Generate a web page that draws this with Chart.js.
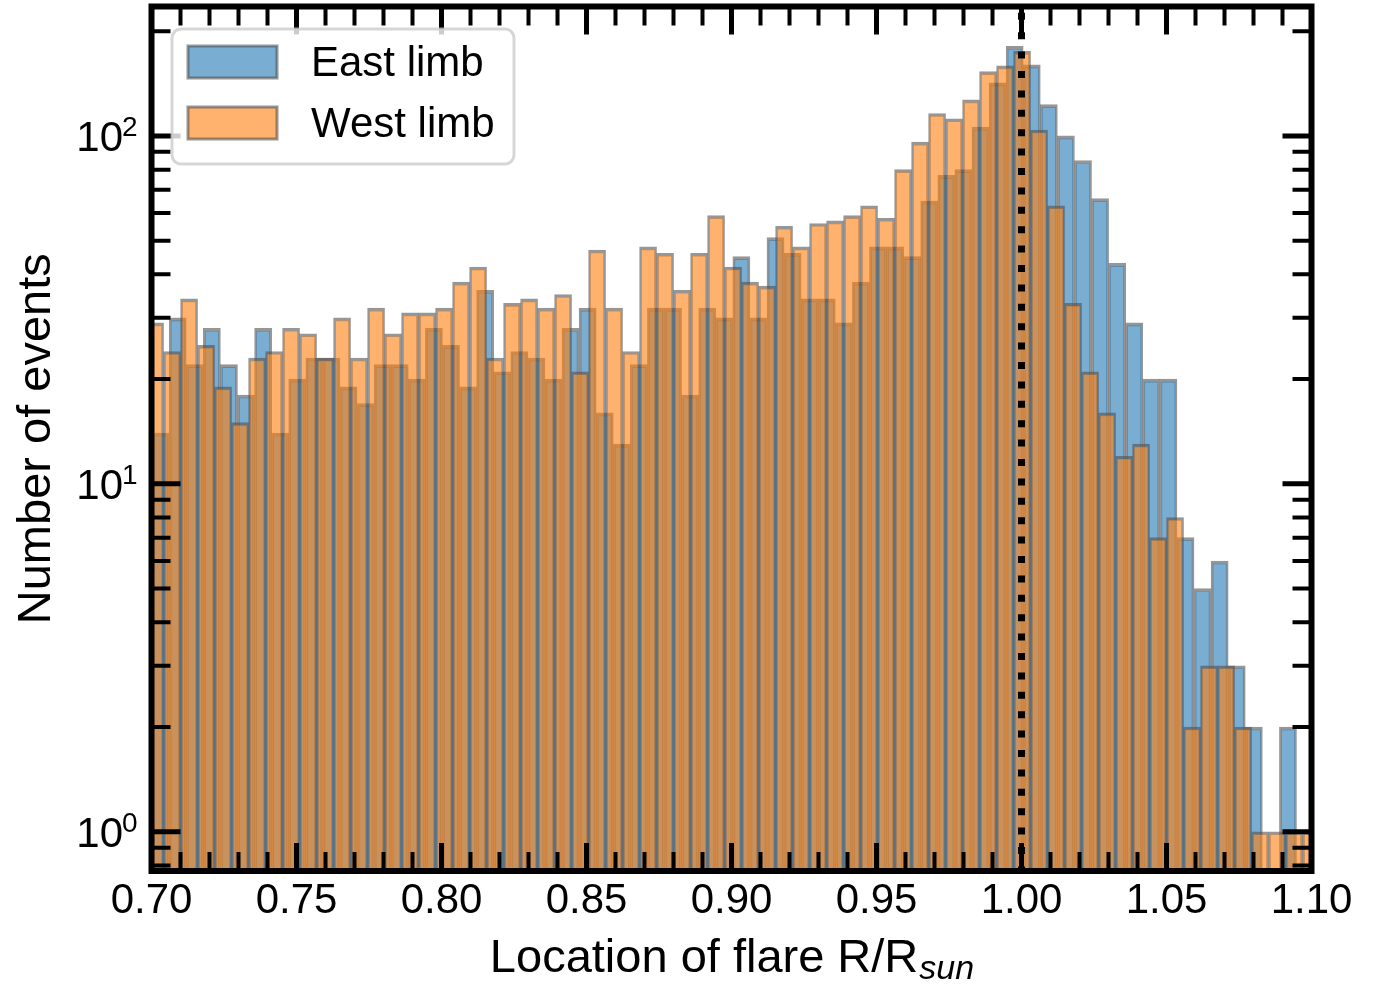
<!DOCTYPE html>
<html lang="en">
<head>
<meta charset="utf-8">
<title>Location of flare R/Rsun</title>
<script src="https://cdn.jsdelivr.net/npm/chart.js@4.4.1/dist/chart.umd.min.js"></script>
<style>
  html, body { margin: 0; padding: 0; background: #ffffff; }
  #chartBox { width: 1382px; height: 984px; }
</style>
</head>
<body>
<div id="chartBox"><canvas id="flareChart" width="1382" height="984"></canvas></div>
<script>
// Bin layout of the two histograms (each limb was binned on its own range)
const eastBinStart = 0.7002;
const eastBinWidth = 0.005890;
const westBinStart = 0.6983;
const westBinWidth = 0.005862;

// Counts per bin, left to right
const eastCounts = [14, 30, 22, 28, 22, 18, 28, 14, 20, 23, 23, 19, 17, 22, 22, 20, 28, 25, 19, 36,
  21, 24, 23, 20, 28, 32, 16, 13, 22, 32, 32, 18, 32, 30, 45, 30, 51, 46, 34, 34,
  29, 38, 48, 48, 45, 65, 77, 80, 106, 142, 181, 160, 123, 100, 85, 66, 43, 29, 20, 20,
  7, 5, 6, 3, 2, 0, 2];
const westCounts = [29, 24, 34, 25, 19, 15, 23, 24, 28, 27, 23, 30, 23, 32, 27, 31, 31, 32, 38, 42,
  23, 33, 34, 32, 35, 21, 47, 32, 24, 48, 46, 36, 46, 59, 42, 38, 37, 55, 48, 56,
  57, 59, 63, 58, 80, 96, 116, 112, 127, 153, 159, 175, 104, 63, 33, 21, 16, 12, 13, 7,
  8, 2, 3, 3, 2, 1, 1, 1, 1];

const seriesLabels = ["East limb", "West limb"];
const xTickValues = [0.70, 0.75, 0.80, 0.85, 0.90, 0.95, 1.00, 1.05, 1.10];
const yMajorTicks = [1, 10, 100];
const yExponents = ["0", "1", "2"];
const limbRadius = 1.0;
const xRange = [0.70, 1.10];
const yRange = [0.771, 235.5];

const FONT = '"Liberation Sans", Arial, Helvetica, sans-serif';

// turn counts into {x: bin centre, y: count}; empty bins are left out
function toBars(start, width, counts) {
  return counts.map((c, i) => ({ x: start + (i + 0.5) * width, y: c > 0 ? c : null }));
}

// black frame plus inward ticks on all four sides
const frameTicks = {
  id: "frameTicks",
  afterDatasetsDraw(chart) {
    const { ctx, chartArea: a, scales } = chart;
    const xs = scales.x, ys = scales.y;
    ctx.save();
    ctx.strokeStyle = "#000";
    ctx.lineCap = "butt";
    for (let i = 0; i <= 40; i++) {
      const px = xs.getPixelForValue(xRange[0] + i * 0.01);
      const major = i % 5 === 0;
      const len = major ? 28 : 19;
      ctx.lineWidth = major ? 5 : 4;
      ctx.beginPath();
      ctx.moveTo(px, a.bottom); ctx.lineTo(px, a.bottom - len);
      ctx.moveTo(px, a.top); ctx.lineTo(px, a.top + len);
      ctx.stroke();
    }
    const decades = [0.1, 1, 10, 100];
    decades.forEach((d) => {
      for (let m = 1; m <= 9; m++) {
        const v = m * d;
        if (v < ys.min || v > ys.max) continue;
        const py = ys.getPixelForValue(v);
        const major = m === 1;
        const len = major ? 29 : 19;
        ctx.lineWidth = major ? 5 : 4;
        ctx.beginPath();
        ctx.moveTo(a.left, py); ctx.lineTo(a.left + len, py);
        ctx.moveTo(a.right, py); ctx.lineTo(a.right - len, py);
        ctx.stroke();
      }
    });
    ctx.lineWidth = 6;
    ctx.strokeRect(a.left, a.top, a.right - a.left, a.bottom - a.top);
    ctx.restore();
  }
};

// y labels as 10 with a raised exponent, x title with subscript "sun"
const axisText = {
  id: "axisText",
  afterDraw(chart) {
    const { ctx, chartArea: a, scales } = chart;
    ctx.save();
    ctx.fillStyle = "#000";
    ctx.textBaseline = "alphabetic";
    yMajorTicks.forEach((v, i) => {
      const py = scales.y.getPixelForValue(v);
      ctx.font = "42px " + FONT;
      ctx.textAlign = "right";
      ctx.fillText("10", 123, py + 15.5);
      ctx.font = "28px " + FONT;
      ctx.textAlign = "left";
      ctx.fillText(yExponents[i], 122, py);
    });
    const main = "Location of flare R/R";
    ctx.font = "47px " + FONT;
    const w1 = ctx.measureText(main).width;
    ctx.font = "italic 34px " + FONT;
    const w2 = ctx.measureText("sun").width;
    const x0 = (a.left + a.right) / 2 - (w1 + w2) / 2;
    ctx.textAlign = "left";
    ctx.font = "47px " + FONT;
    ctx.fillText(main, x0, 972);
    ctx.font = "italic 34px " + FONT;
    ctx.fillText("sun", x0 + w1 + 1, 979);
    ctx.restore();
  }
};

// legend box in the upper left corner of the plot
const boxLegend = {
  id: "boxLegend",
  afterDraw(chart) {
    const { ctx } = chart;
    const bx = 172, by = 29, bw = 342, bh = 135, r = 9;
    ctx.save();
    ctx.beginPath();
    ctx.roundRect(bx, by, bw, bh, r);
    ctx.fillStyle = "rgba(255,255,255,0.8)";
    ctx.fill();
    ctx.lineWidth = 3;
    ctx.strokeStyle = "rgba(204,204,204,0.8)";
    ctx.stroke();
    const rows = [62, 123];
    [0, 1].forEach((di, k) => {
      const ds = chart.data.datasets[di];
      const cy = rows[k];
      ctx.fillStyle = ds.backgroundColor;
      ctx.fillRect(188, cy - 16, 89, 32);
      ctx.lineWidth = 3;
      ctx.strokeStyle = ds.borderColor;
      ctx.strokeRect(188, cy - 16, 89, 32);
      ctx.fillStyle = "#000";
      ctx.font = "42px " + FONT;
      ctx.textAlign = "left";
      ctx.textBaseline = "middle";
      ctx.fillText(ds.label, 311, cy + 2);
    });
    ctx.restore();
  }
};

const barStyle = {
  borderColor: "rgba(80,80,80,0.6)",
  borderWidth: { top: 3, left: 2, right: 2, bottom: 0 },
  barPercentage: 1,
  categoryPercentage: 1,
  grouped: false,
  clip: 0
};

new Chart(document.getElementById("flareChart"), {
  type: "bar",
  data: {
    datasets: [
      Object.assign({
        label: seriesLabels[0],
        data: toBars(eastBinStart, eastBinWidth, eastCounts),
        xAxisID: "x",
        yAxisID: "y",
        backgroundColor: "rgba(31,119,180,0.6)",
        order: 2
      }, barStyle),
      Object.assign({
        label: seriesLabels[1],
        data: toBars(westBinStart, westBinWidth, westCounts),
        xAxisID: "xW",
        yAxisID: "y",
        backgroundColor: "rgba(255,127,14,0.6)",
        order: 1
      }, barStyle),
      {
        type: "line",
        label: "limb",
        data: [{ x: limbRadius, y: yRange[1] }, { x: limbRadius, y: yRange[0] }],
        xAxisID: "x",
        yAxisID: "y",
        borderColor: "#000",
        borderWidth: 7,
        borderDash: [7, 12.4],
        borderDashOffset: 13.1,
        borderCapStyle: "butt",
        pointRadius: 0,
        fill: false,
        order: 0
      }
    ]
  },
  options: {
    responsive: false,
    animation: false,
    devicePixelRatio: 1,
    layout: { padding: { top: 6.5, right: 70.5, left: 0, bottom: 0 } },
    plugins: {
      legend: { display: false },
      tooltip: { enabled: false }
    },
    scales: {
      x: {
        type: "linear",
        position: "bottom",
        min: xRange[0],
        max: xRange[1],
        offset: false,
        grid: { display: false, drawTicks: false, offset: false },
        border: { display: false },
        afterBuildTicks: (s) => { s.ticks = xTickValues.map((v) => ({ value: v })); },
        ticks: {
          callback: (v) => Number(v).toFixed(2),
          font: { family: FONT, size: 42 },
          color: "#000",
          padding: 5,
          maxRotation: 0,
          autoSkip: false
        },
        afterFit: (s) => { s.height = 113; }
      },
      xW: {
        type: "linear",
        display: false,
        min: xRange[0],
        max: xRange[1],
        offset: false,
        grid: { offset: false }
      },
      y: {
        type: "logarithmic",
        position: "left",
        min: yRange[0],
        max: yRange[1],
        grid: { display: false, drawTicks: false },
        border: { display: false },
        afterBuildTicks: (s) => { s.ticks = yMajorTicks.map((v) => ({ value: v })); },
        ticks: { display: false },
        title: {
          display: true,
          text: "Number of events",
          font: { family: FONT, size: 47 },
          color: "#000",
          padding: { top: 9, bottom: 0 }
        },
        afterFit: (s) => { s.width = 151.5; }
      }
    }
  },
  plugins: [frameTicks, axisText, boxLegend]
});
</script>
</body>
</html>
